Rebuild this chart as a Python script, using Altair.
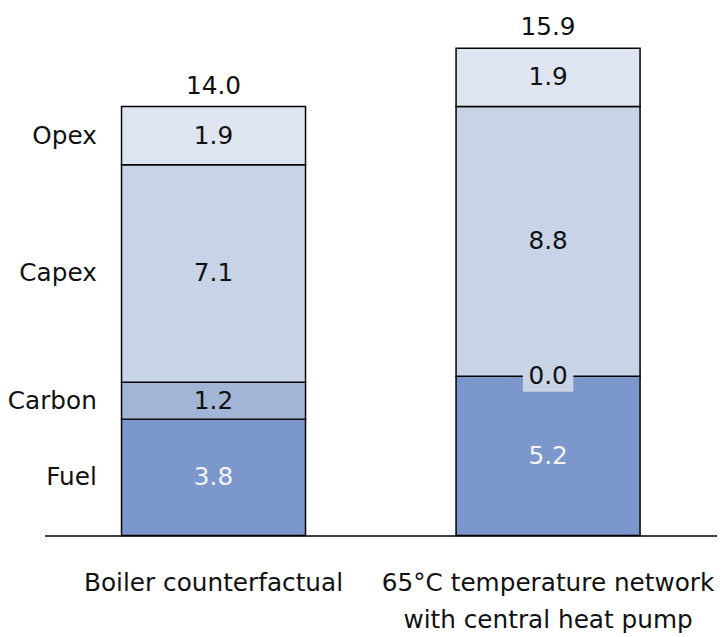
import altair as alt
import pandas as pd

categories = ["Boiler counterfactual", "65°C temperature network\nwith central heat pump"]
components = ["Fuel", "Carbon", "Capex", "Opex"]
fuel = [3.8, 5.2]
carbon = [1.2, 0.0]
capex = [7.1, 8.8]
opex = [1.9, 1.9]
totals = [14.0, 15.9]
colors = ["#7b97cb", "#a3b5d6", "#c8d3e7", "#dfe5f0"]
text_colors = ["#f4f4f4", "#111111", "#111111", "#111111"]

series = [fuel, carbon, capex, opex]
rows = []
for ci, cat in enumerate(categories):
    base = 0.0
    for k, comp in enumerate(components):
        v = series[k][ci]
        rows.append({"cat": cat, "comp": comp, "order": k, "value": v,
                     "y0": base, "y1": base + v, "mid": base + v / 2,
                     "label": f"{v:.1f}", "tcolor": text_colors[k],
                     "cidx": ci})
        base += v
df = pd.DataFrame(rows)
tot = pd.DataFrame({"cat": categories, "total": totals,
                    "label": [f"{t:.1f}" for t in totals]})

FONT = "DejaVu Sans"
FS = 25

xax = alt.Axis(domainColor="black", domainWidth=1.5, ticks=False, grid=False,
               labelAngle=0, labelFontSize=FS, labelFont=FONT,
               labelColor="#111111", labelPadding=36, labelLimit=1000,
               labelLineHeight=37, labelBaseline="top",
               labelExpr="split(datum.label, '\\n')")
xs = alt.X("cat:N", sort=categories, title=None,
           scale=alt.Scale(paddingInner=0.45, paddingOuter=0.23), axis=xax)
ysc = alt.Scale(domain=[0, 17.1], nice=False, zero=True)
xn = alt.X("cat:N", sort=categories, title=None, axis=xax)

bars = alt.Chart(df).mark_bar(stroke="black", strokeWidth=1.5).encode(
    x=xs,
    y=alt.Y("y0:Q", scale=ysc, axis=None),
    y2="y1:Q",
    color=alt.Color("comp:N", scale=alt.Scale(domain=components, range=colors), legend=None),
)

zero_bg = alt.Chart(df[df["value"] == 0]).mark_point(
    shape="M-1,-0.62L1,-0.62L1,0.62L-1,0.62Z", size=2600, filled=True,
    color="#c9d3e6", opacity=1, strokeWidth=0
).encode(x=xn, y=alt.Y("mid:Q", scale=ysc, axis=None))

vals = alt.Chart(df).mark_text(font=FONT, fontSize=FS).encode(
    x=xn,
    y=alt.Y("mid:Q", scale=ysc, axis=None),
    text="label:N",
    color=alt.Color("tcolor:N", scale=None),
)

tots = alt.Chart(tot).mark_text(font=FONT, fontSize=FS, baseline="bottom", dy=-8,
                                color="#111111").encode(
    x=xn,
    y=alt.Y("total:Q", scale=ysc, axis=None),
    text="label:N",
)

side = alt.Chart(df[df["cidx"] == 0]).mark_text(font=FONT, fontSize=FS, align="right",
                                               dx=-118, color="#111111").encode(
    x=xn,
    y=alt.Y("mid:Q", scale=ysc, axis=None),
    text="comp:N",
)

chart = alt.layer(bars, zero_bg, vals, tots, side).properties(
    width=680, height=530,
    background="white",
    autosize=alt.AutoSizeParams(type="none"),
    padding={"left": 37, "top": 0, "right": 0, "bottom": 99},
).configure_view(stroke=None, strokeWidth=0)

chart.save("out.html", embed_options={"renderer": "svg", "actions": False})
